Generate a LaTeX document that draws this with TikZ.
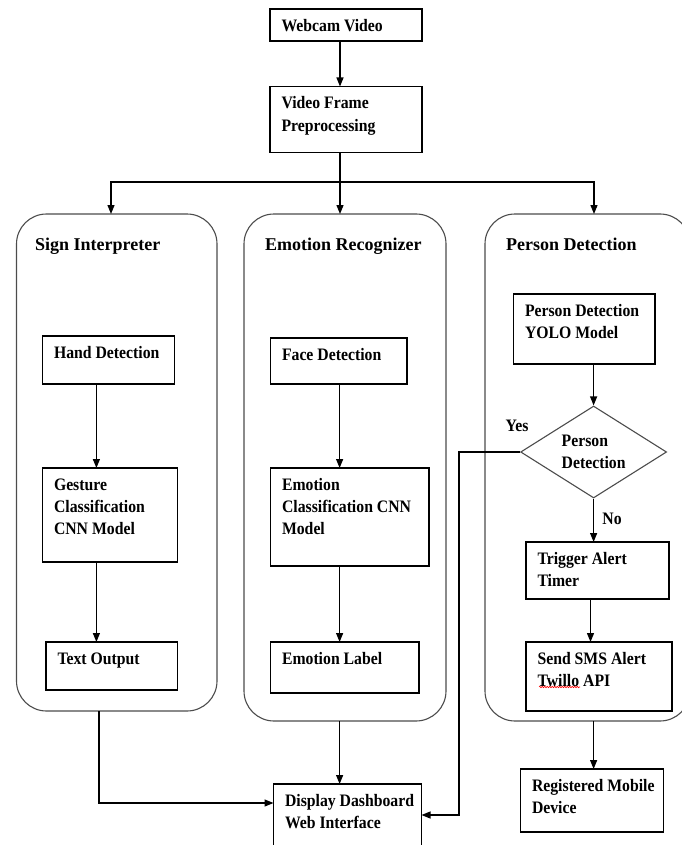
\documentclass[tikz,border=0pt]{standalone}
\usepackage{fontspec}
\setmainfont{Liberation Serif}
\newfontfamily\boxfont{Liberation Serif}[FakeStretch=0.9]
\usetikzlibrary{arrows.meta,shapes.geometric,decorations.pathmorphing}
\newcommand{\bt}[3]{\parbox[t][#2pt][t]{#1pt}{\raggedright\leftskip=11.5pt\rule{0pt}{22.5pt}#3}}
\tikzset{
  bx/.style={draw=black, line width=1.2pt, inner sep=0pt, outer sep=0pt,
    anchor=north west, font=\boxfont\bfseries\fontsize{17.5}{22.2}\selectfont},
  panel/.style={draw=black!70, line width=1.1pt, rounded corners=30pt, inner sep=0pt,
    outer sep=0pt, anchor=north west},
  ttl/.style={font=\bfseries\fontsize{18}{22}\selectfont, anchor=base west, inner sep=0pt},
  lbl/.style={font=\boxfont\bfseries\fontsize{17.5}{22.2}\selectfont, inner sep=0pt},
  arr/.style={-{Triangle[length=9pt,width=7pt]}, line width=1.2pt},
  ln/.style={line width=1.2pt}
}
\begin{document}
\begin{tikzpicture}[x=1pt,y=-1pt]
\useasboundingbox (0,0) rectangle (681,845);

% panels
\node[panel, minimum width=200.5pt, minimum height=497pt] (sign) at (16.5,214) {};
\node[panel, minimum width=202pt, minimum height=507pt] (emo) at (244,214) {};
\node[panel, minimum width=205pt, minimum height=507pt] (person) at (485,214) {};
\node[ttl] (t1) at (35,250) {Sign Interpreter};
\node[ttl] (t2) at (265,250) {Emotion Recognizer};
\node[ttl] (t3) at (506,250) {Person Detection};

% boxes
\node[bx] (webcam) at (270,9) {\bt{152}{32}{Webcam Video}};
\node[bx] (video) at (270,86.5) {\bt{152}{66}{Video Frame\\Preprocessing}};
\node[bx] (hand) at (42.5,336) {\bt{132}{48}{Hand Detection}};
\node[bx] (gesture) at (42.5,468) {\bt{135}{94}{Gesture\\Classification\\CNN Model}};
\node[bx] (textout) at (46,642) {\bt{131.5}{48}{Text Output}};
\node[bx] (face) at (270.5,338) {\bt{136.5}{46}{Face Detection}};
\node[bx] (emoclass) at (270.5,468) {\bt{158.5}{98}{Emotion\\Classification CNN\\Model}};
\node[bx] (emolabel) at (270.5,642) {\bt{148.5}{51}{Emotion Label}};
\node[bx] (yolo) at (513.5,294) {\bt{141.5}{70}{Person Detection\\YOLO Model}};
\node[bx] (trigger) at (526,542) {\bt{143}{57}{Trigger Alert\\Timer}};
\node[bx] (send) at (526,642) {\bt{146}{69}{Send SMS Alert\\Twillo API}};
\node[bx] (registered) at (520.5,769) {\bt{143}{63}{Registered Mobile\\Device}};
\node[bx] (display) at (273.5,784) {\bt{148}{80}{Display Dashboard\\Web Interface}};

\node[diamond, draw=black!70, line width=1.1pt, minimum width=146pt, minimum height=92pt,
  aspect=1.587, inner sep=0pt, align=left,
  font=\boxfont\bfseries\fontsize{17.5}{22.2}\selectfont] (dia) at (593.6,452) {Person\\Detection};

\node[lbl] (yes) at (517,426) {Yes};
\node[lbl] (no) at (612,519) {No};

% spell-check squiggle
\draw[red, line width=0.6pt, decorate, decoration={snake, amplitude=0.7pt, segment length=2.5pt}]
  ([shift={(13,45)}]send.north west) -- ++(41,0);

% connectors
\coordinate (fork) at (340,182);
\draw[arr] (webcam.south -| fork) -- (video.north -| fork);
\draw[ln] (video.south -| fork) -- (fork);
\draw[arr] (fork) -| (sign.north -| 111,0);
\draw[arr] (fork) -- (emo.north -| fork);
\draw[arr] (fork) -| (person.north -| 594,0);

\draw[arr] (hand.south -| 96.4,0) -- (gesture.north -| 96.4,0);
\draw[arr] (gesture.south -| 96.4,0) -- (textout.north -| 96.4,0);
\draw[arr] (face.south -| 339.6,0) -- (emoclass.north -| 339.6,0);
\draw[arr] (emoclass.south -| 339.6,0) -- (emolabel.north -| 339.6,0);
\draw[arr] (yolo.south -| dia) -- (dia.north);
\draw[arr] (dia.south) -- (trigger.north -| dia);
\draw[arr] (trigger.south -| 590.5,0) -- (send.north -| 590.5,0);

\draw[arr] (sign.south -| 99,0) |- (display.west |- 0,803);
\draw[arr] (emo.south -| 339.6,0) -- (display.north -| 339.6,0);
\draw[arr] (dia.west) -| (459,815) -- (display.east |- 0,815);
\draw[arr] (person.south -| dia) -- (registered.north -| dia);
\end{tikzpicture}
\end{document}
